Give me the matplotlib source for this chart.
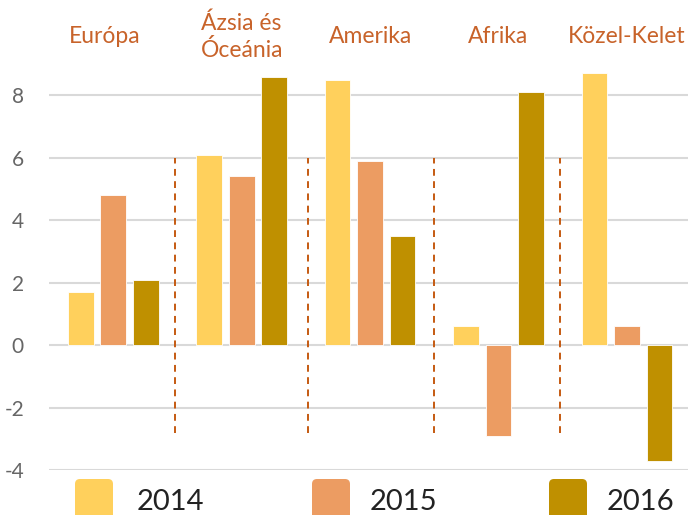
import matplotlib.pyplot as plt
import numpy as np
from matplotlib.patches import FancyBboxPatch

regions = ['Európa', 'Ázsia és\nÓceánia', 'Amerika', 'Afrika', 'Közel-Kelet']
years = ['2014', '2015', '2016']
v2014 = [1.7, 6.1, 8.5, 0.6, 8.7]
v2015 = [4.8, 5.4, 5.9, -2.9, 0.6]
v2016 = [2.1, 8.6, 3.5, 8.1, -3.7]
yticks = [-4, -2, 0, 2, 4, 6, 8]

colors = ['#FFD05C', '#EC9C62', '#BF9000']
label_col = '#C55A11'

plt.rcParams['font.family'] = ['Lato', 'DejaVu Sans']

fig = plt.figure(figsize=(6.88, 5.15), dpi=100)
ax = fig.add_axes([49 / 688, 45 / 515, 1 - 49 / 688, 470 / 515])

x = np.arange(len(regions))
step = 0.253
for i, vals in enumerate([v2014, v2015, v2016]):
    ax.bar(x + (i - 1) * step, vals, width=0.2, color=colors[i],
           edgecolor='white', linewidth=0.6, zorder=3)

# dashed separators between regions
for sx in [0.48, 1.52, 2.50, 3.48]:
    ax.plot([sx, sx], [-2.83, 6.0], color=label_col, lw=1.4,
            dashes=(3.5, 2.8), zorder=2)

# region labels at top
for xi, name in zip(x, regions):
    ax.text(xi - 0.07 if xi == 0 else xi, 9.87, name, ha='center', va='center',
            fontsize=16.5, color='#C8632A', linespacing=1.3)

ax.set_xlim(-0.5, 4.475)
ax.set_ylim(-4, 11.05)
ax.set_yticks(yticks)
ax.set_yticklabels([str(t) for t in yticks])
ax.tick_params(axis='y', length=0, pad=18, labelsize=15, labelcolor='#666666')
ax.set_xticks([])
for s in ax.spines.values():
    s.set_visible(False)
ax.yaxis.grid(True, color='#D9D9D9', lw=1.5, zorder=0)
ax.set_axisbelow(True)

# legend drawn in pixel coordinates
ov = fig.add_axes([0, 0, 1, 1], zorder=5)
ov.set_xlim(0, 688)
ov.set_ylim(515, 0)
ov.axis('off')
for lx, tx, c, yr in zip([75, 312, 549], [137, 370, 607], colors, years):
    ov.add_patch(FancyBboxPatch((lx + 5, 484), 28, 32,
                                boxstyle='round,pad=5', fc=c, ec='none'))
    ov.text(tx, 510, yr, fontsize=21, color='#222222', va='baseline', ha='left')

fig.savefig('out.png', dpi=100)
